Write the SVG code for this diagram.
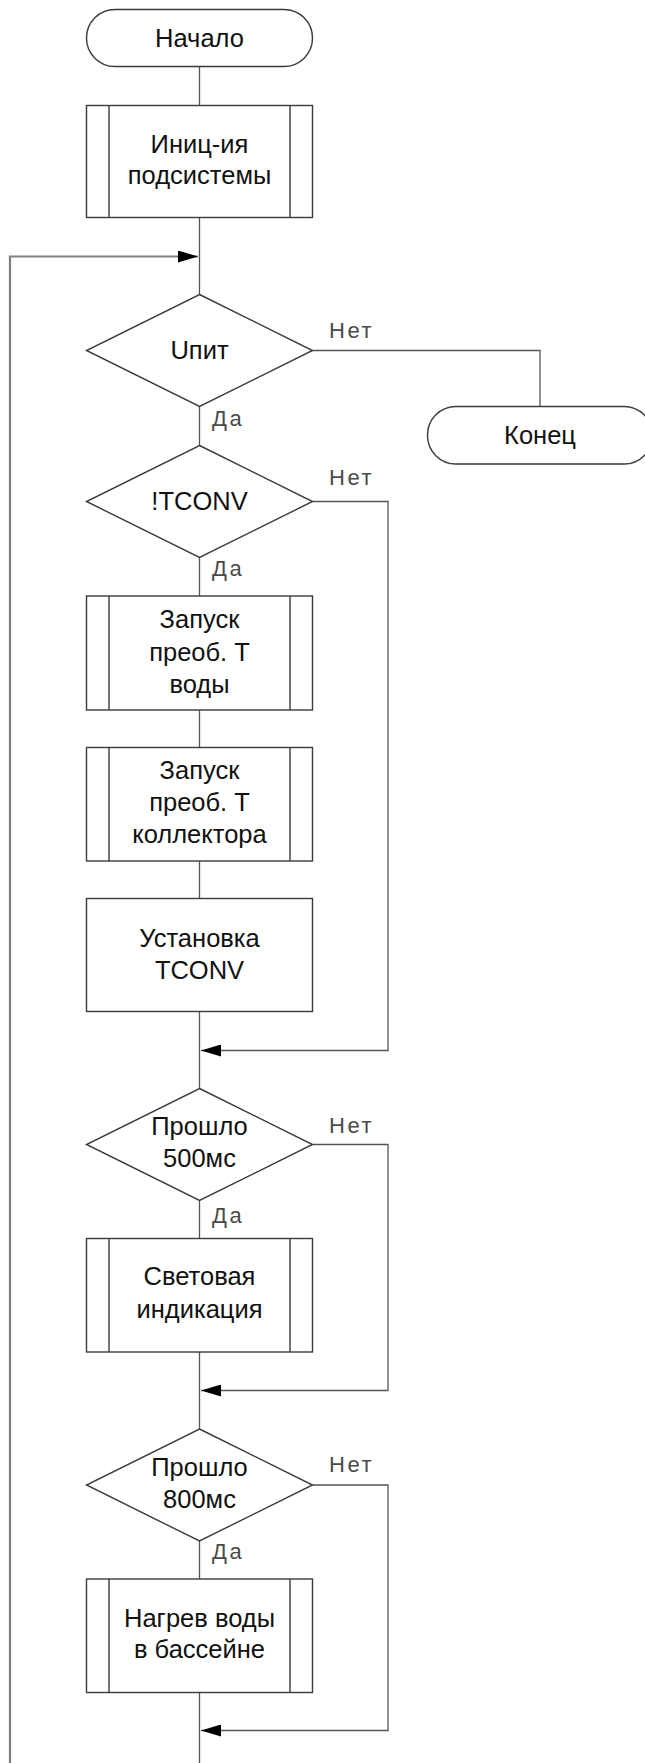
<svg xmlns="http://www.w3.org/2000/svg" width="645" height="1763" viewBox="0 0 645 1763">
<defs>
<style>
.shape{fill:#fff;stroke:#3a3a3a;stroke-width:1.4}
.inner{fill:none;stroke:#3a3a3a;stroke-width:1.4}
.t{font-family:"Liberation Sans",Arial,sans-serif;font-size:25.5px;fill:#111;text-anchor:middle}
.lbl{font-family:"Liberation Sans",Arial,sans-serif;font-size:22px;fill:#4a4a4a;letter-spacing:2.5px}
.c{fill:none;stroke:#555;stroke-width:1.3}
.loop{fill:none;stroke:#808080;stroke-width:2.2}
</style>
<marker id="ah" markerUnits="userSpaceOnUse" markerWidth="20" markerHeight="12" refX="20" refY="6" orient="auto">
<path d="M0,0 L20,6 L0,12 z" fill="#000"/>
</marker>
</defs>
<rect width="645" height="1763" fill="#fff"/>

<g id="connectors">
<line class="c" x1="199.5" y1="66.5" x2="199.5" y2="105.5"/>
<line class="c" x1="199.5" y1="217.5" x2="199.5" y2="294.5"/>
<polyline class="loop" points="10,1763 10,256.5 198,256.5" marker-end="url(#ah)"/>
<line class="c" x1="199.5" y1="406.5" x2="199.5" y2="445.5"/>
<polyline class="c" points="312.5,350.5 540,350.5 540,406.5"/>
<line class="c" x1="199.5" y1="557.5" x2="199.5" y2="596"/>
<polyline class="c" points="312.5,501.5 388,501.5 388,1050.5 201,1050.5" marker-end="url(#ah)"/>
<line class="c" x1="199.5" y1="710" x2="199.5" y2="747.5"/>
<line class="c" x1="199.5" y1="861" x2="199.5" y2="898.5"/>
<line class="c" x1="199.5" y1="1011.5" x2="199.5" y2="1088.5"/>
<polyline class="c" points="312.5,1144.5 388,1144.5 388,1390.5 201,1390.5" marker-end="url(#ah)"/>
<line class="c" x1="199.5" y1="1200.5" x2="199.5" y2="1238.5"/>
<line class="c" x1="199.5" y1="1352" x2="199.5" y2="1429"/>
<polyline class="c" points="312.5,1485 388,1485 388,1730.5 201,1730.5" marker-end="url(#ah)"/>
<line class="c" x1="199.5" y1="1541" x2="199.5" y2="1579"/>
<line class="c" x1="199.5" y1="1692.5" x2="199.5" y2="1763"/>
<text class="lbl" x="329" y="338.3">Нет</text>
<text class="lbl" x="212" y="425.7">Да</text>
<text class="lbl" x="329" y="485">Нет</text>
<text class="lbl" x="212" y="576">Да</text>
<text class="lbl" x="329" y="1132.7">Нет</text>
<text class="lbl" x="212" y="1222.7">Да</text>
<text class="lbl" x="329" y="1471.7">Нет</text>
<text class="lbl" x="212" y="1559.3">Да</text>
</g>

<g id="start">
<rect class="shape" x="86.5" y="9.5" width="226" height="57" rx="28.5"/>
<text class="t" x="199.5" y="46.5">Начало</text>
</g>

<g id="init">
<rect class="shape" x="86.5" y="105.5" width="226" height="112"/>
<line class="inner" x1="109" y1="105.5" x2="109" y2="217.5"/>
<line class="inner" x1="290" y1="105.5" x2="290" y2="217.5"/>
<text class="t" x="199.5" y="153.3">Иниц-ия</text>
<text class="t" x="199.5" y="184.3">подсистемы</text>
</g>

<g id="dec-upit">
<polygon class="shape" points="199.5,294.5 312.5,350.5 199.5,406.5 86.5,350.5"/>
<text class="t" x="199.5" y="358.5">Uпит</text>
</g>

<g id="end">
<rect class="shape" x="427.5" y="406.5" width="225" height="57.5" rx="28.5"/>
<text class="t" x="540" y="443.5">Конец</text>
</g>

<g id="dec-tconv">
<polygon class="shape" points="199.5,445.5 312.5,501.5 199.5,557.5 86.5,501.5"/>
<text class="t" x="199.5" y="510">!TCONV</text>
</g>

<g id="start-water">
<rect class="shape" x="86.5" y="596" width="226" height="114"/>
<line class="inner" x1="109" y1="596" x2="109" y2="710"/>
<line class="inner" x1="290" y1="596" x2="290" y2="710"/>
<text class="t" x="199.5" y="628.3">Запуск</text>
<text class="t" x="199.5" y="661">преоб. Т</text>
<text class="t" x="199.5" y="692.7">воды</text>
</g>

<g id="start-collector">
<rect class="shape" x="86.5" y="747.5" width="226" height="113.5"/>
<line class="inner" x1="109" y1="747.5" x2="109" y2="861"/>
<line class="inner" x1="290" y1="747.5" x2="290" y2="861"/>
<text class="t" x="199.5" y="779">Запуск</text>
<text class="t" x="199.5" y="811">преоб. Т</text>
<text class="t" x="199.5" y="843.3">коллектора</text>
</g>

<g id="set-tconv">
<rect class="shape" x="86.5" y="898.5" width="226" height="113"/>
<text class="t" x="199.5" y="946.7">Установка</text>
<text class="t" x="199.5" y="979.3">TCONV</text>
</g>

<g id="dec-500">
<polygon class="shape" points="199.5,1088.5 312.5,1144.5 199.5,1200.5 86.5,1144.5"/>
<text class="t" x="199.5" y="1135">Прошло</text>
<text class="t" x="199.5" y="1167.3">500мс</text>
</g>

<g id="light">
<rect class="shape" x="86.5" y="1238.5" width="226" height="113.5"/>
<line class="inner" x1="109" y1="1238.5" x2="109" y2="1352"/>
<line class="inner" x1="290" y1="1238.5" x2="290" y2="1352"/>
<text class="t" x="199.5" y="1285">Световая</text>
<text class="t" x="199.5" y="1318.3">индикация</text>
</g>

<g id="dec-800">
<polygon class="shape" points="199.5,1429 312.5,1485 199.5,1541 86.5,1485"/>
<text class="t" x="199.5" y="1476">Прошло</text>
<text class="t" x="199.5" y="1507.7">800мс</text>
</g>

<g id="heat">
<rect class="shape" x="86.5" y="1579" width="226" height="113.5"/>
<line class="inner" x1="109" y1="1579" x2="109" y2="1692.5"/>
<line class="inner" x1="290" y1="1579" x2="290" y2="1692.5"/>
<text class="t" x="199.5" y="1626.7">Нагрев воды</text>
<text class="t" x="199.5" y="1658.3">в бассейне</text>
</g>
</svg>
